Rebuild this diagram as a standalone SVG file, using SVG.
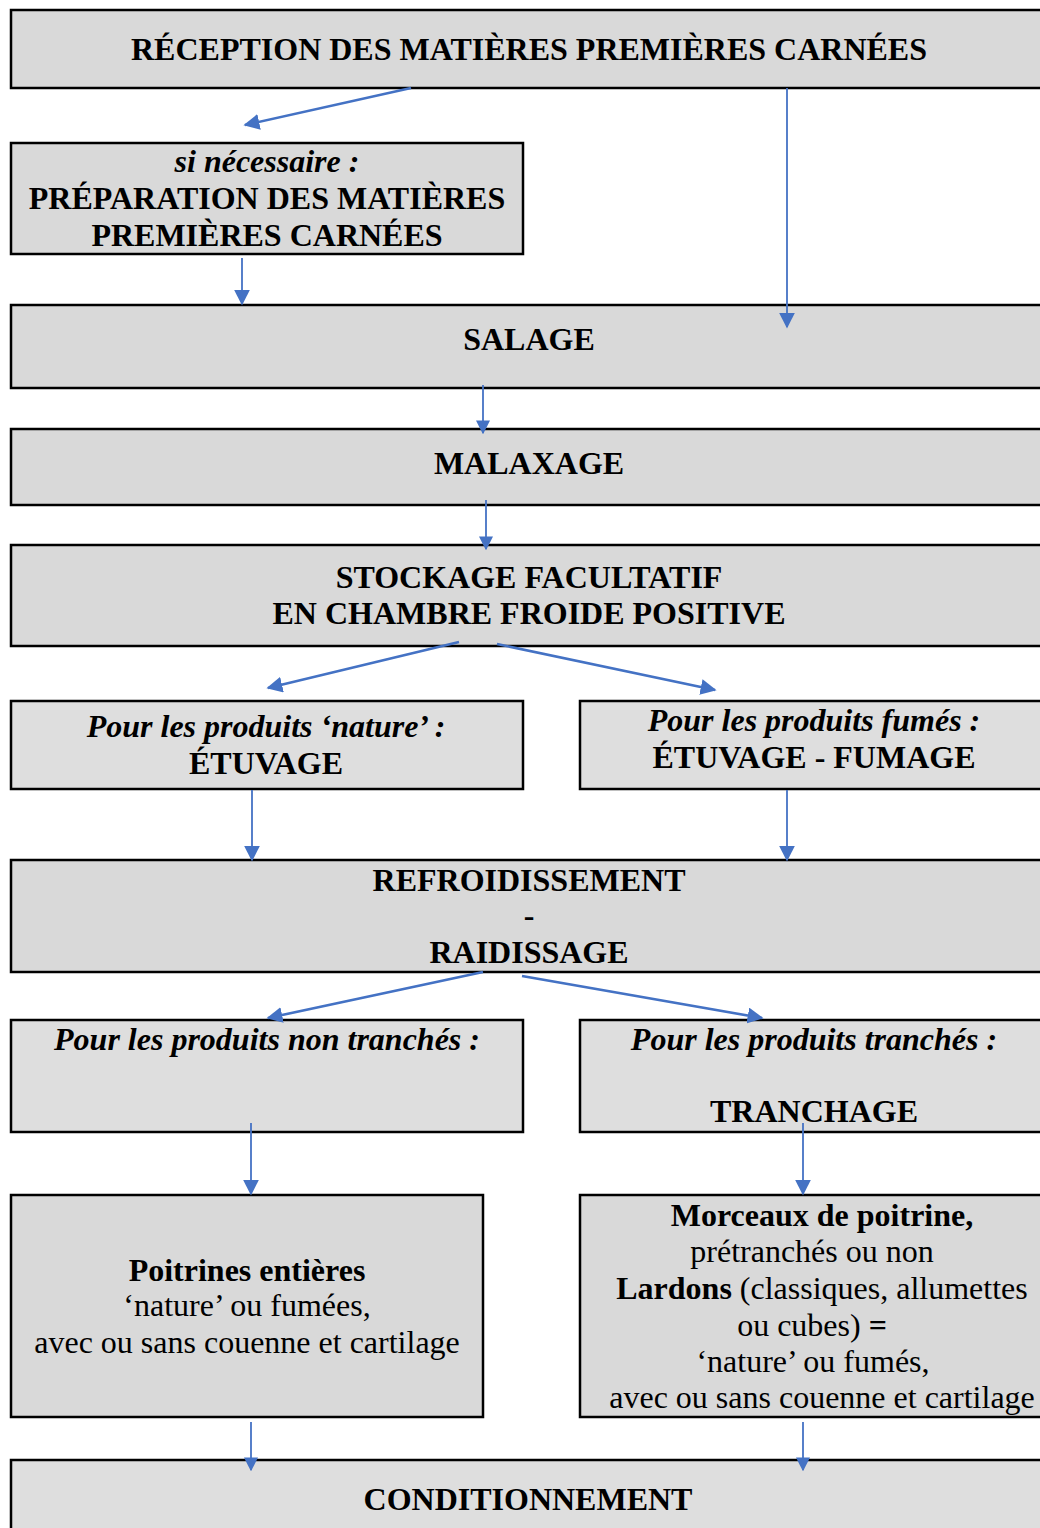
<svg xmlns="http://www.w3.org/2000/svg" width="1040" height="1528" viewBox="0 0 1040 1528">
<style>
.box{fill:#d9d9d9;stroke:#000;stroke-width:2.5}
.lt{fill:#dedede}
text{font-family:"Liberation Serif","Times New Roman",serif;font-size:32px;fill:#000;text-anchor:middle}
.b{font-weight:bold}
.i{font-style:italic;font-weight:bold}
.c{fill:none;stroke:#4472c4;stroke-width:1.8}
.t{stroke-width:2.6}
</style>
<defs>
<marker id="ah" viewBox="0 0 10 10" refX="9" refY="5" markerWidth="14" markerHeight="14" markerUnits="userSpaceOnUse" orient="auto"><path d="M0,0 L10,5 L0,10 z" fill="#4472c4"/></marker>
<marker id="ah2" viewBox="0 0 10 10" refX="9" refY="5" markerWidth="16" markerHeight="16" markerUnits="userSpaceOnUse" orient="auto"><path d="M0,0 L10,5 L0,10 z" fill="#4472c4"/></marker>
</defs>
<g id="n1"><rect class="box" x="11" y="10" width="1040" height="78"/><text class="b" x="529" y="60">RÉCEPTION DES MATIÈRES PREMIÈRES CARNÉES</text></g>
<g id="n2"><rect class="box" x="11" y="143" width="512" height="111"/><text class="i" x="267" y="172">si nécessaire :</text><text class="b" x="267" y="209">PRÉPARATION DES MATIÈRES</text><text class="b" x="267" y="246">PREMIÈRES CARNÉES</text></g>
<g id="n3"><rect class="box" x="11" y="305" width="1040" height="83"/><text class="b" x="529" y="350">SALAGE</text></g>
<g id="n4"><rect class="box" x="11" y="429" width="1040" height="76"/><text class="b" x="529" y="474">MALAXAGE</text></g>
<g id="n5"><rect class="box" x="11" y="545" width="1040" height="101"/><text class="b" x="529" y="588">STOCKAGE FACULTATIF</text><text class="b" x="529" y="624">EN CHAMBRE FROIDE POSITIVE</text></g>
<g id="n6"><rect class="box lt" x="11" y="701" width="512" height="88"/><text class="i" x="266" y="737">Pour les produits ‘nature’ :</text><text class="b" x="266" y="774">ÉTUVAGE</text></g>
<g id="n7"><rect class="box lt" x="580" y="701" width="480" height="88"/><text class="i" x="814" y="731">Pour les produits fumés :</text><text class="b" x="814" y="768">ÉTUVAGE - FUMAGE</text></g>
<g id="n8"><rect class="box" x="11" y="860" width="1040" height="112"/><text class="b" x="529" y="891">REFROIDISSEMENT</text><text class="b" x="529" y="926">-</text><text class="b" x="529" y="963">RAIDISSAGE</text></g>
<g id="n9"><rect class="box lt" x="11" y="1020" width="512" height="112"/><text class="i" x="267" y="1050">Pour les produits non tranchés :</text></g>
<g id="n10"><rect class="box lt" x="580" y="1020" width="480" height="112"/><text class="i" x="814" y="1050">Pour les produits tranchés :</text><text class="b" x="814" y="1122">TRANCHAGE</text></g>
<g id="n11"><rect class="box" x="11" y="1195" width="472" height="222"/><text class="b" x="247" y="1281">Poitrines entières</text><text x="247" y="1316">‘nature’ ou fumées,</text><text x="247" y="1353">avec ou sans couenne et cartilage</text></g>
<g id="n12"><rect class="box" x="580" y="1195" width="480" height="222"/><text class="b" x="822" y="1226">Morceaux de poitrine,</text><text x="812" y="1262">prétranchés ou non</text><text x="822" y="1299"><tspan class="b">Lardons</tspan> (classiques, allumettes</text><text x="812" y="1336">ou cubes) <tspan class="b">=</tspan></text><text x="813" y="1372">‘nature’ ou fumés,</text><text x="822" y="1408">avec ou sans couenne et cartilage</text></g>
<g id="n13"><rect class="box lt" x="11" y="1460" width="1040" height="80"/><text class="b" x="528" y="1510">CONDITIONNEMENT</text></g>
<g id="connectors">
<line class="c t" x1="411" y1="88" x2="245" y2="125" marker-end="url(#ah2)"/>
<line class="c" x1="787" y1="88" x2="787" y2="327" marker-end="url(#ah2)"/>
<line class="c" x1="242" y1="258" x2="242" y2="304" marker-end="url(#ah2)"/>
<line class="c" x1="483" y1="385" x2="483" y2="433" marker-end="url(#ah)"/>
<line class="c" x1="486" y1="500" x2="486" y2="549" marker-end="url(#ah)"/>
<line class="c t" x1="459" y1="642" x2="268" y2="688" marker-end="url(#ah2)"/>
<line class="c t" x1="497" y1="644" x2="715" y2="690" marker-end="url(#ah2)"/>
<line class="c" x1="252" y1="790" x2="252" y2="860" marker-end="url(#ah2)"/>
<line class="c" x1="787" y1="790" x2="787" y2="860" marker-end="url(#ah2)"/>
<line class="c t" x1="483" y1="972" x2="268" y2="1018" marker-end="url(#ah2)"/>
<line class="c t" x1="522" y1="976" x2="762" y2="1018" marker-end="url(#ah2)"/>
<line class="c" x1="251" y1="1123" x2="251" y2="1194" marker-end="url(#ah2)"/>
<line class="c" x1="803" y1="1123" x2="803" y2="1194" marker-end="url(#ah2)"/>
<line class="c" x1="251" y1="1422" x2="251" y2="1470" marker-end="url(#ah)"/>
<line class="c" x1="803" y1="1422" x2="803" y2="1470" marker-end="url(#ah)"/>
</g>
</svg>
